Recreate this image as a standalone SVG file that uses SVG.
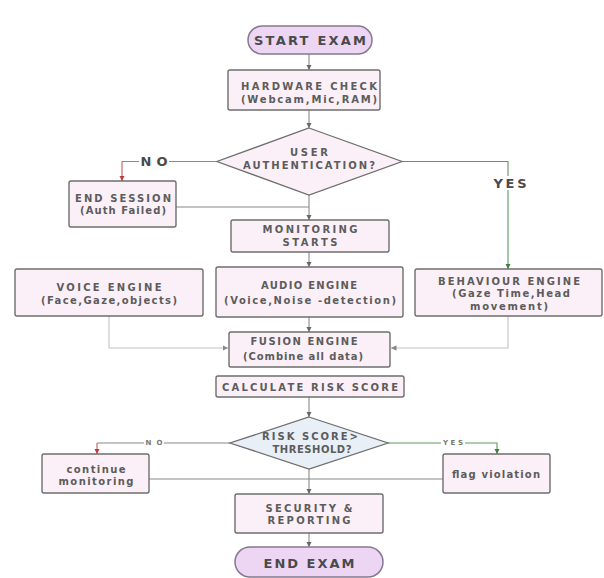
<svg xmlns="http://www.w3.org/2000/svg" width="604" height="578" viewBox="0 0 604 578">
<style>
.bg{fill:#ffffff}
.box{fill:#fbf0f7;stroke:#6e6e6e;stroke-width:1.4}
.term{fill:#ecd6f4;stroke:#857890;stroke-width:1.5}
.dia{fill:#fbf0f7;stroke:#6e6e6e;stroke-width:1.3}
.dia2{fill:#e8eff7;stroke:#6e6e6e;stroke-width:1.3}
.t{font-family:"DejaVu Sans",Verdana,sans-serif;font-size:10px;font-weight:bold;fill:#5c5c5c;text-anchor:middle;dominant-baseline:central}
.tb{font-family:"DejaVu Sans",Verdana,sans-serif;font-size:13px;font-weight:bold;fill:#4a4a4a;text-anchor:middle;dominant-baseline:central}
.ts{font-family:"DejaVu Sans",Verdana,sans-serif;font-size:7px;font-weight:bold;fill:#777;text-anchor:middle;dominant-baseline:central}
.c{fill:none;stroke:#8a8a8a;stroke-width:1.1}
.cl{fill:none;stroke:#c4c4c4;stroke-width:1.1}
.cg{fill:none;stroke:#5e9a5e;stroke-width:1.1}
.cr{fill:none;stroke:#c85a5a;stroke-width:1.1}
</style>
<defs>
<marker id="ah" viewBox="0 0 10 10" refX="10" refY="5" markerWidth="5" markerHeight="5" orient="auto"><path d="M0,0 L10,5 L0,10 z" fill="#666"/></marker>
<marker id="ahl" viewBox="0 0 10 10" refX="10" refY="5" markerWidth="5" markerHeight="5" orient="auto"><path d="M0,0 L10,5 L0,10 z" fill="#888"/></marker>
<marker id="ahg" viewBox="0 0 10 10" refX="10" refY="5" markerWidth="5" markerHeight="5" orient="auto"><path d="M0,0 L10,5 L0,10 z" fill="#3f7f3f"/></marker>
<marker id="ahr" viewBox="0 0 10 10" refX="10" refY="5" markerWidth="5" markerHeight="5" orient="auto"><path d="M0,0 L10,5 L0,10 z" fill="#c03a3a"/></marker>
</defs>
<rect class="bg" x="0" y="0" width="604" height="578"/>

<g id="connectors">
<path class="c" d="M309,54 V70" marker-end="url(#ah)"/>
<path class="c" d="M309,110 V128" marker-end="url(#ah)"/>
<path class="c" d="M217,161.5 H122"/>
<path class="cr" d="M122,161.5 V181" marker-end="url(#ahr)"/>
<path class="cg" d="M402,161.5 H508 V269" marker-end="url(#ahg)"/>
<path class="c" d="M176,207 H309"/>
<path class="c" d="M309,195 V220" marker-end="url(#ah)"/>
<path class="c" d="M309,252 V267" marker-end="url(#ah)"/>
<path class="c" d="M309,317 V332" marker-end="url(#ah)"/>
<path class="cl" d="M109,316 V348 H228" marker-end="url(#ahl)"/>
<path class="cl" d="M508,316 V348 H391" marker-end="url(#ahl)"/>
<path class="c" d="M309,397 V417" marker-end="url(#ah)"/>
<path class="c" d="M230,443 H97"/>
<path class="cr" d="M97,443 V454" marker-end="url(#ahr)"/>
<path class="cg" d="M388,443 H497 V454" marker-end="url(#ahg)"/>
<path class="c" d="M149,479 H309"/>
<path class="c" d="M443,479 H309"/>
<path class="c" d="M309,469 V494" marker-end="url(#ah)"/>
<path class="c" d="M309,533 V547" marker-end="url(#ah)"/>
<rect x="139" y="154" width="30" height="14" fill="#fff"/>
<text class="tb" x="154" y="161.5" textLength="27">NO</text>
<rect x="493" y="176" width="34" height="14" fill="#fff"/>
<text class="tb" x="510" y="183" textLength="33">YES</text>
<rect x="144" y="439" width="20" height="8" fill="#fff"/>
<text class="ts" x="154" y="443" textLength="17">NO</text>
<rect x="441" y="439" width="24" height="8" fill="#fff"/>
<text class="ts" x="453" y="443" textLength="20">YES</text>
</g>

<g id="start">
<rect class="term" x="248" y="26" width="124" height="28" rx="14"/>
<text class="tb" x="310" y="40" textLength="112">START EXAM</text>
</g>
<g id="hardware">
<rect class="box" x="228" y="70" width="152" height="40" rx="2"/>
<text class="t" x="309" y="86" textLength="136">HARDWARE CHECK</text>
<text class="t" x="309" y="99" textLength="136">(Webcam,Mic,RAM)</text>
</g>
<g id="auth">
<polygon class="dia" points="309,128 402,161.5 309,195 217,161.5"/>
<text class="t" x="309" y="152" textLength="38">USER</text>
<text class="t" x="309" y="165" textLength="132">AUTHENTICATION?</text>
</g>
<g id="endsession">
<rect class="box" x="69" y="181" width="107" height="46" rx="2"/>
<text class="t" x="123" y="198" textLength="96">END SESSION</text>
<text class="t" x="123" y="210" textLength="86">(Auth Failed)</text>
</g>
<g id="monitoring">
<rect class="box" x="231" y="220" width="158" height="32" rx="2"/>
<text class="t" x="310" y="229" textLength="95">MONITORING</text>
<text class="t" x="310" y="242" textLength="55">STARTS</text>
</g>
<g id="voice">
<rect class="box" x="15" y="269" width="188" height="47" rx="2"/>
<text class="t" x="109" y="287" textLength="105">VOICE ENGINE</text>
<text class="t" x="109" y="300" textLength="136">(Face,Gaze,objects)</text>
</g>
<g id="audio">
<rect class="box" x="216" y="267" width="187" height="50" rx="2"/>
<text class="t" x="309" y="285" textLength="96">AUDIO ENGINE</text>
<text class="t" x="310" y="300" textLength="172">(Voice,Noise -detection)</text>
</g>
<g id="behaviour">
<rect class="box" x="415" y="269" width="187" height="47" rx="2"/>
<text class="t" x="509" y="281" textLength="142">BEHAVIOUR ENGINE</text>
<text class="t" x="511" y="293" textLength="118">(Gaze Time,Head</text>
<text class="t" x="509" y="306" textLength="78">movement)</text>
</g>
<g id="fusion">
<rect class="box" x="229" y="332" width="161" height="35" rx="2"/>
<text class="t" x="304" y="341" textLength="107">FUSION ENGINE</text>
<text class="t" x="303" y="356" textLength="120">(Combine all data)</text>
</g>
<g id="calculate">
<rect class="box" x="216" y="376" width="188" height="21" rx="2"/>
<text class="t" x="310" y="387" textLength="176">CALCULATE RISK SCORE</text>
</g>
<g id="risk">
<polygon class="dia2" points="309,417 388,443 309,469 230,443"/>
<text class="t" x="310" y="436" textLength="96">RISK SCORE&gt;</text>
<text class="t" x="312" y="449" textLength="79">THRESHOLD?</text>
</g>
<g id="continue">
<rect class="box" x="42" y="454" width="107" height="39" rx="2"/>
<text class="t" x="96" y="469" textLength="59">continue</text>
<text class="t" x="96" y="481" textLength="75">monitoring</text>
</g>
<g id="flag">
<rect class="box" x="443" y="454" width="107" height="39" rx="2"/>
<text class="t" x="496" y="474" textLength="88">flag violation</text>
</g>
<g id="security">
<rect class="box" x="235" y="494" width="148" height="39" rx="2"/>
<text class="t" x="309" y="508" textLength="87">SECURITY &amp;</text>
<text class="t" x="309" y="520" textLength="83">REPORTING</text>
</g>
<g id="end">
<rect class="term" x="235" y="547" width="148" height="30" rx="15"/>
<text class="tb" x="309" y="563" textLength="91">END EXAM</text>
</g>
</svg>
